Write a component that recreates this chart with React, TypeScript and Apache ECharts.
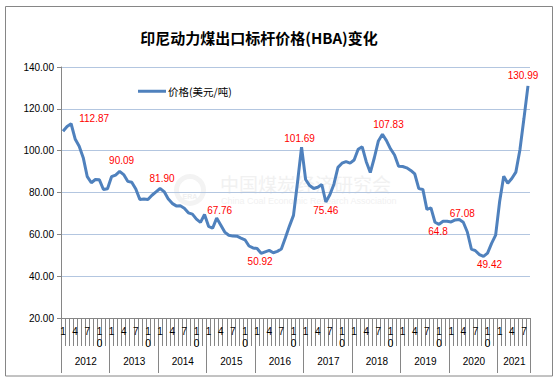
import React, { useEffect, useRef } from "react";
import * as echarts from "echarts";

// ---- data (monthly HBA, USD/t) ----
const years = [2012, 2013, 2014, 2015, 2016, 2017, 2018, 2019, 2020, 2021];
const price2012 = [109.29, 111.58, 112.87, 105.61, 102.12, 96.65, 87.56, 84.65, 86.21, 86.04, 81.44, 81.75];
const price2013 = [87.55, 88.35, 90.09, 88.56, 85.33, 84.87, 81.69, 76.7, 76.89, 76.61, 78.69, 80.31];
const price2014 = [81.9, 80.44, 77.01, 74.81, 73.6, 73.64, 72.45, 70.29, 69.69, 67.26, 65.7, 69.5];
const price2015 = [63.84, 62.92, 67.76, 64.48, 61.08, 59.59, 59.16, 59.14, 58.21, 57.39, 54.43, 53.51];
const price2016 = [53.2, 50.92, 51.62, 52.32, 51.2, 51.87, 53.0, 58.37, 63.93, 69.07, 84.89, 101.69];
const price2017 = [86.23, 83.32, 81.9, 82.51, 83.81, 75.46, 78.95, 83.97, 92.03, 93.99, 94.8, 94.04];
const price2018 = [95.54, 100.69, 101.86, 94.75, 89.53, 96.61, 104.65, 107.83, 104.81, 100.89, 97.9, 92.51];
const price2019 = [92.41, 91.8, 90.57, 88.85, 81.86, 81.48, 71.92, 72.67, 65.79, 64.8, 66.27, 66.3];
const price2020 = [65.93, 66.89, 67.08, 65.77, 61.11, 52.98, 52.16, 50.34, 49.42, 51.0, 55.71, 59.65];
const price2021 = [75.84, 87.79, 84.47, 86.68, 89.74, 100.33, 115.35, 130.99];
const pricesByYear = [price2012, price2013, price2014, price2015, price2016, price2017, price2018, price2019, price2020, price2021];

const shownMonths = [1, 4, 7, 10];
const yTicks = { min: 20, max: 140, interval: 20 };
const seriesName = "价格(美元/吨)";
const titleText = "印尼动力煤出口标杆价格(HBA)变化";

// annotated points: year, month, text
const calloutYears = [2012, 2013, 2014, 2015, 2016, 2016, 2017, 2018, 2019, 2020, 2020, 2021];
const calloutMonths = [3, 3, 1, 3, 2, 12, 6, 8, 10, 3, 9, 8];
const calloutTexts = ["112.87", "90.09", "81.90", "67.76", "50.92", "101.69", "75.46", "107.83", "64.8", "67.08", "49.42", "130.99"];
// label placement (style, not data)
const calloutPlacement: { position: string; offset: number[] }[] = [
  { position: "top", offset: [23, 5] },
  { position: "top", offset: [2, -1] },
  { position: "top", offset: [2, 0] },
  { position: "top", offset: [3, 2] },
  { position: "bottom", offset: [-1, -2] },
  { position: "top", offset: [-2, 1] },
  { position: "bottom", offset: [0, -1] },
  { position: "top", offset: [6, 0] },
  { position: "bottom", offset: [-1, -3] },
  { position: "top", offset: [3, 4] },
  { position: "bottom", offset: [6, -2] },
  { position: "top", offset: [-5, 0] },
];

// ---- build categories ----
const monthCats: string[] = [];
const yearCats: string[] = [];
const values: number[] = [];
const yearStartSet = new Set<number>();
const yearLabelSet = new Set<number>();
const indexOf: Record<string, number> = {};
pricesByYear.forEach((arr, yi) => {
  yearStartSet.add(values.length);
  yearLabelSet.add(values.length + Math.floor(arr.length / 2));
  arr.forEach((v, mi) => {
    indexOf[`${years[yi]}-${mi + 1}`] = values.length;
    monthCats.push(String(mi + 1));
    yearCats.push(String(years[yi]));
    values.push(v);
  });
});

const calloutByIndex: Record<number, number> = {};
calloutYears.forEach((y, k) => {
  calloutByIndex[indexOf[`${y}-${calloutMonths[k]}`]] = k;
});

const NUM_FONT = "Liberation Sans";
const CJK_FONT = "Noto Sans CJK SC";
const AXIS_GRAY = "#868686";
const LINE_BLUE = "#4F81BD";

const seriesData = values.map((v, i) => {
  const k = calloutByIndex[i];
  if (k === undefined) return v;
  const p = calloutPlacement[k];
  return {
    value: v,
    symbol: "circle",
    symbolSize: 0,
    label: {
      show: true,
      position: p.position,
      distance: 5,
      offset: p.offset,
      formatter: calloutTexts[k],
      color: "#ff0000",
      fontSize: 10,
      fontFamily: NUM_FONT,
    },
  };
});

const option: any = {
  animation: false,
  backgroundColor: "#ffffff",
  grid: { left: 61, right: 30, top: 67, bottom: 71, containLabel: false },
  legend: {
    show: true,
    left: 138,
    top: 86,
    padding: 0,
    icon: "rect",
    itemWidth: 28,
    itemHeight: 3,
    itemGap: 10,
    textStyle: { fontSize: 10.5, color: "#000", fontFamily: CJK_FONT, padding: [0, 0, 0, -3] },
    data: [seriesName],
  },
  xAxis: [
    {
      type: "category",
      position: "bottom",
      data: monthCats,
      boundaryGap: true,
      axisLine: { show: true, lineStyle: { color: AXIS_GRAY, width: 1 } },
      axisTick: { show: true, interval: 0, length: 28, lineStyle: { color: AXIS_GRAY } },
      axisLabel: {
        interval: 0,
        margin: 7,
        fontSize: 10,
        lineHeight: 12,
        color: "#000",
        fontFamily: NUM_FONT,
        formatter: (v: string) => {
          const m = Number(v);
          if (!shownMonths.includes(m)) return "";
          return v.split("").join("\n");
        },
      },
      splitLine: { show: false },
    },
    {
      type: "category",
      position: "bottom",
      offset: 0,
      data: yearCats,
      boundaryGap: true,
      axisLine: { show: false },
      axisTick: {
        show: true,
        interval: (i: number) => yearStartSet.has(i),
        length: 55,
        lineStyle: { color: AXIS_GRAY },
      },
      axisLabel: {
        interval: (i: number) => yearLabelSet.has(i),
        margin: 38,
        fontSize: 10,
        color: "#000",
        fontFamily: NUM_FONT,
        padding: [0, 3, 0, 0],
      },
      splitLine: { show: false },
    },
  ],
  yAxis: {
    type: "value",
    min: yTicks.min,
    max: yTicks.max,
    interval: yTicks.interval,
    axisLine: { show: true, lineStyle: { color: AXIS_GRAY } },
    axisTick: { show: true, length: 4, lineStyle: { color: AXIS_GRAY } },
    axisLabel: {
      margin: 7,
      fontSize: 10,
      color: "#000",
      fontFamily: NUM_FONT,
      formatter: (v: number) => v.toFixed(2),
    },
    splitLine: { show: true, lineStyle: { color: "#B3C6E0", width: 1 } },
  },
  graphic: [
    {
      type: "rect",
      silent: true,
      shape: { x: 5.5, y: 6.5, width: 547, height: 369.5 },
      style: { fill: "none", stroke: AXIS_GRAY, lineWidth: 1 },
    },
    {
      type: "text",
      x: 259,
      y: 37.5,
      style: {
        text: titleText,
        fontSize: 15,
        fontWeight: "bold",
        fontFamily: CJK_FONT,
        fill: "#000",
        align: "center",
        verticalAlign: "middle",
      },
    },
    // faint watermark
    {
      type: "ring",
      silent: true,
      shape: { cx: 190, cy: 190, r: 16, r0: 11 },
      style: { fill: "#f3f3f3" },
    },
    {
      type: "text",
      silent: true,
      x: 190,
      y: 196,
      style: { text: "ERA", fontSize: 7, fontWeight: "bold", fontFamily: NUM_FONT, fill: "#f0f0f0", align: "center", verticalAlign: "middle" },
    },
    {
      type: "text",
      silent: true,
      x: 220,
      y: 183,
      style: { text: "中国煤炭经济研究会", fontSize: 19, fontFamily: CJK_FONT, fill: "#f1f1f1", align: "left", verticalAlign: "middle" },
    },
    {
      type: "text",
      silent: true,
      x: 221,
      y: 201,
      style: { text: "China Coal Economic Research Association", fontSize: 9, fontFamily: NUM_FONT, fill: "#f1f1f1", align: "left", verticalAlign: "middle" },
    },
  ],
  series: [
    {
      name: seriesName,
      type: "line",
      xAxisIndex: 0,
      yAxisIndex: 0,
      data: seriesData,
      symbol: "none",
      showSymbol: true,
      showAllSymbol: true,
      smooth: false,
      lineStyle: { color: LINE_BLUE, width: 3 },
      itemStyle: { color: LINE_BLUE },
      z: 3,
    },
  ],
};

export default function App() {
  const ref = useRef<HTMLDivElement>(null);
  useEffect(() => {
    if (!ref.current) return;
    const chart = echarts.init(ref.current, null, { renderer: "svg" });
    chart.setOption(option);
    return () => chart.dispose();
  }, []);
  return (
    <div
      ref={ref}
      style={{ position: "fixed", left: 0, top: 0, width: 560, height: 389, background: "#fff" }}
    />
  );
}
